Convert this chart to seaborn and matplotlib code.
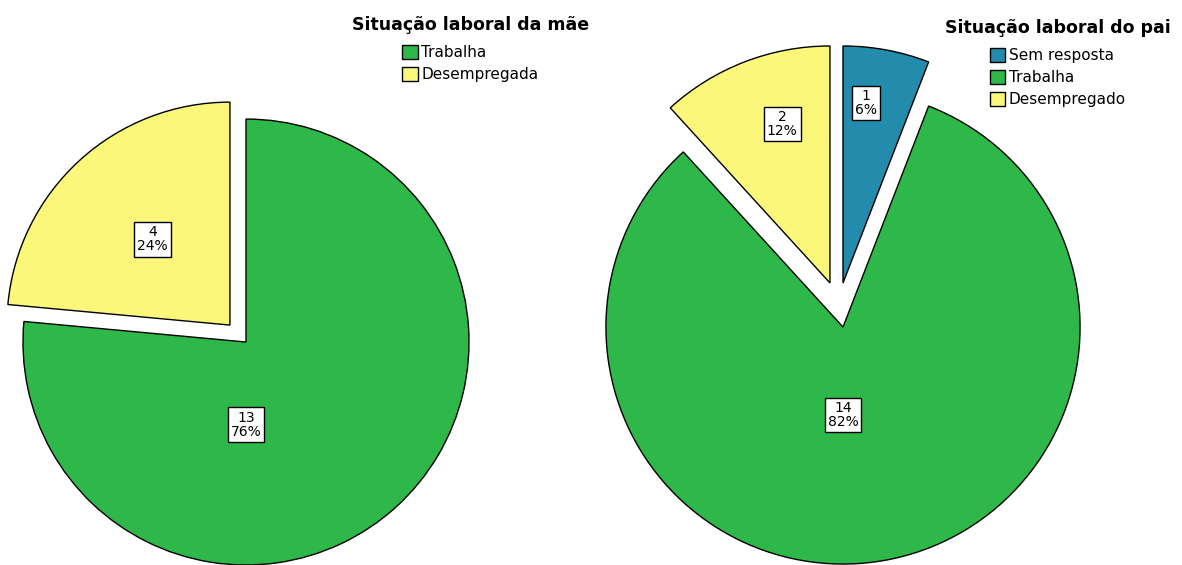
import matplotlib
matplotlib.use('Agg')
import matplotlib.pyplot as plt
import matplotlib.patches as mpatches
import seaborn as sns

# Data
mae_labels = ['Trabalha', 'Desempregada']
mae_counts = [13, 4]
pai_labels = ['Sem resposta', 'Trabalha', 'Desempregado']
pai_counts = [1, 14, 2]

# Colours (SPSS-like)
green = '#2FB84A'
yellow = '#FAF77A'
blue = '#238BAC'
mae_colors = [green, yellow]
pai_colors = [blue, green, yellow]

sns.set_style("white")
plt.rcParams['font.family'] = ['DejaVu Sans']
plt.rcParams['text.color'] = 'black'

fig = plt.figure(figsize=(11.82, 5.65), dpi=100, facecolor='white')


def draw_pie(ax, counts, colors, shifts, label_pos, labels, title, legend_anchor):
    total = sum(counts)
    wedges, _ = ax.pie(counts, colors=colors, startangle=90, counterclock=False,
                       wedgeprops=dict(edgecolor='black', linewidth=1.0))
    # SPSS-style slice separation
    for w, (dx, dy) in zip(wedges, shifts):
        cx, cy = w.center
        w.set_center((cx + dx, cy + dy))
    for (x, y), n in zip(label_pos, counts):
        ax.text(x, y, f'{n}\n{n / total * 100:.0f}%', ha='center', va='center',
                fontsize=10, linespacing=1.0, color='black',
                bbox=dict(boxstyle='square,pad=0.22', facecolor='white',
                          edgecolor='black', linewidth=1.0))
    handles = [mpatches.Patch(facecolor=c, edgecolor='black', linewidth=1.0) for c in colors]
    leg = fig.legend(handles, labels, title=title, loc='upper center',
                     bbox_to_anchor=legend_anchor, bbox_transform=fig.transFigure,
                     frameon=False, fontsize=11, handlelength=1.0, handleheight=1.0,
                     handletextpad=0.25, labelspacing=0.45, borderpad=0,
                     labelcolor='black',
                     title_fontproperties={'weight': 'bold', 'size': 12.5})
    leg.get_title().set_color('black')
    leg._legend_box.sep = 8
    return wedges


# Left pie (mother)
ax1 = fig.add_axes([0, 0, 0.5, 1])
draw_pie(ax1, mae_counts, mae_colors, [(0, 0), (-0.072, 0.076)],
         [(0.0, -0.37), (-0.42, 0.46)],
         mae_labels, 'Situação laboral da mãe', (0.398, 0.985))
ax1.set_xlim(-1.103, 1.547)
ax1.set_ylim(-1.0, 1.534)
ax1.set_aspect('auto')
ax1.axis('off')

# Right pie (father)
ax2 = fig.add_axes([0.5, 0, 0.5, 1])
draw_pie(ax2, pai_counts, pai_colors, [(0, 0.186), (0, 0), (-0.055, 0.186)],
         [(0.097, 0.947), (0.0, -0.37), (-0.257, 0.856)],
         pai_labels, 'Situação laboral do pai', (0.895, 0.98))
ax2.set_xlim(-1.063, 1.430)
ax2.set_ylim(-1.004, 1.380)
ax2.set_aspect('auto')
ax2.axis('off')

plt.savefig('out.png', dpi=100, facecolor='white')
